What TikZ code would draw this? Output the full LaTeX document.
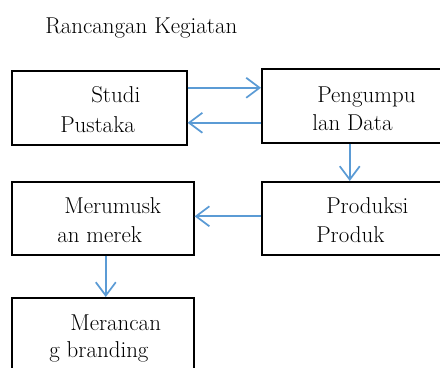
\documentclass[tikz,border=0pt]{standalone}
\usepackage{fontspec}
\usetikzlibrary{arrows.meta}
\definecolor{flowblue}{RGB}{91,155,213}
\tikzset{
  box/.style={draw, line width=1.2pt, inner sep=0pt, anchor=north west},
  txt/.style={anchor=base west, inner sep=0pt, font=\fontsize{17.2}{22}\selectfont},
  arr/.style={draw=flowblue, line width=1.3pt, -{Straight Barb[length=10pt, width=15pt]}}
}
\begin{document}
\begin{tikzpicture}[x=0.75pt, y=-0.75pt]
    \useasboundingbox (0,0) rectangle (440,368);

    % Judul
    \node[txt] (judul) at (45,33) {Rancangan Kegiatan};

    % Kotak
    \node[box, minimum width=131.25pt, minimum height=55.5pt] (studi) at (11,70) {};
    \node[box, minimum width=138.75pt, minimum height=55.5pt] (data) at (261,68) {};
    \node[box, minimum width=136.5pt, minimum height=54.75pt] (rumus) at (11,181) {};
    \node[box, minimum width=138.75pt, minimum height=54.75pt] (produksi) at (261,181) {};
    \node[box, minimum width=136.5pt, minimum height=60pt] (rancang) at (11,297) {};

    % Teks dalam kotak
    \node[txt] (studi-1) at (91,102) {Studi};
    \node[txt] (studi-2) at (60,132) {Pustaka};
    \node[txt] (data-1) at (317,102) {Pengumpu};
    \node[txt] (data-2) at (312,130) {lan Data};
    \node[txt] (rumus-1) at (64,213) {Merumusk};
    \node[txt] (rumus-2) at (57,242) {an merek};
    \node[txt] (produksi-1) at (326,213) {Produksi};
    \node[txt] (produksi-2) at (316,242) {Produk};
    \node[txt] (rancang-1) at (70,330) {Merancan};
    \node[txt] (rancang-2) at (49,357) {g branding};

    % Panah
    \draw[arr] ([yshift=15pt]studi.east) -- ([yshift=15pt]studi.east -| data.west);
    \draw[arr] ([yshift=-11.25pt]studi.east -| data.west) -- ([yshift=-11.25pt]studi.east);
    \draw[arr] ([xshift=-3.4pt]data.south) -- ([xshift=-3.4pt]data.south |- produksi.north);
    \draw[arr] ([yshift=1.5pt]produksi.west) -- ([yshift=1.5pt]rumus.east);
    \draw[arr] ([xshift=2.25pt]rumus.south) -- ([xshift=2.25pt]rumus.south |- rancang.north);
\end{tikzpicture}
\end{document}
